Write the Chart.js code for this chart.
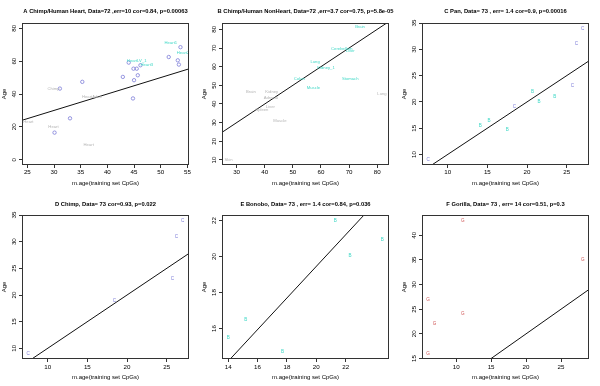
<!DOCTYPE html>
<html>
<head>
<meta charset="utf-8">
<script src="https://cdn.jsdelivr.net/npm/chart.js@4.4.1/dist/chart.umd.min.js"></script>
<style>
  html, body { margin: 0; padding: 0; background: #fff; }
  #wrap { position: relative; width: 600px; height: 386px; }
  .panel { position: absolute; }
</style>
</head>
<body>
<div id="wrap">
  <canvas id="panelA" class="panel" width="200" height="190" style="left:0;top:0"></canvas>
  <canvas id="panelB" class="panel" width="200" height="190" style="left:200px;top:0"></canvas>
  <canvas id="panelC" class="panel" width="200" height="190" style="left:400px;top:0"></canvas>
  <canvas id="panelD" class="panel" width="200" height="196" style="left:0;top:190px"></canvas>
  <canvas id="panelE" class="panel" width="200" height="196" style="left:200px;top:190px"></canvas>
  <canvas id="panelF" class="panel" width="200" height="196" style="left:400px;top:190px"></canvas>
</div>
<script>
// Methylation age vs real age, six panels (R-style base plots)

const BLUE = '#7c7cd8';
const CYAN = '#3fd8c6';
const GRAY = '#b4b4b4';
const RED = '#d05858';

// --- Panel A: Chimp/Human heart ---
const heartCircleX = [35.3, 31.1, 33.0, 30.1, 42.9, 44.0, 44.9, 45.5, 46.2, 45.7, 45.0, 44.8, 51.5, 53.7, 53.2, 53.4];
const heartCircleY = [47.4, 43.3, 25.2, 16.5, 50.4, 59.1, 55.4, 55.4, 57.5, 51.4, 48.4, 37.3, 62.5, 68.5, 60.5, 57.9];
const heartHumanX = [51.9, 54.2, 45.5, 47.4];
const heartHumanY = [71.0, 65.1, 59.9, 57.5];
const heartHumanText = ['Heart1', 'Heart2', 'HeartLV_1', 'Heart3'];
const heartOtherX = [29.9, 37.1, 25.2, 29.9, 36.5];
const heartOtherY = [42.9, 38.3, 23.2, 19.8, 9.1];
const heartOtherText = ['Chimp', 'HeartAdult', 'Heart', 'Heart', 'Heart'];
const heartXTicks = [25, 30, 35, 40, 45, 50, 55];
const heartYTicks = [0, 20, 40, 60, 80];

// --- Panel B: Chimp/Human non-heart ---
const tissueHumanX = [73.9, 67.4, 70.4, 57.9, 61.8, 52.3, 70.4, 57.3];
const tissueHumanY = [81.1, 69.4, 68.3, 62.4, 59.4, 53.5, 53.5, 48.7];
const tissueHumanText = ['Brain', 'Cerebellum', 'Liver', 'Lung', 'Kidney_1', 'Colon', 'Stomach', 'Muscle'];
const tissueChimpX = [35.1, 42.5, 42.2, 42.0, 39.0, 45.4, 81.7, 27.1];
const tissueChimpY = [46.5, 46.5, 43.5, 38.5, 36.7, 30.9, 45.5, 10.0];
const tissueChimpText = ['Brain', 'Kidney', 'Adrenal', 'Liver', 'Spleen', 'Muscle', 'Lung', 'Skin'];
const tissueXTicks = [30, 40, 50, 60, 70, 80];
const tissueYTicks = [10, 20, 30, 40, 50, 60, 70, 80];

// --- Chimpanzee samples (panels C and D) ---
const chimpX = [7.55, 18.4, 25.7, 26.2, 27.0];
const chimpY = [9.0, 19.0, 23.0, 31.0, 34.0];
// --- Bonobo samples (panel C) ---
const bonoboX = [14.1, 15.2, 17.5, 20.7, 21.5, 23.5];
const bonoboY = [15.5, 16.5, 14.7, 22.0, 20.05, 20.95];
const panXTicks = [10, 15, 20, 25];
const panYTicks = [10, 15, 20, 25, 30, 35];

// --- Panel E: Bonobo model ---
const bonoboEX = [14.0, 15.2, 17.7, 21.3, 22.3, 24.5];
const bonoboEY = [15.5, 16.5, 14.7, 22.0, 20.05, 20.95];
const bonoboLineX = [14.14, 23.25];
const bonoboLineY = [14.31, 22.31];
const bonoboXTicks = [14, 16, 18, 20, 22];
const bonoboYTicks = [16, 18, 20, 22];

// --- Panel F: Gorilla ---
const gorillaX = [6.0, 6.0, 6.9, 10.95, 10.95, 28.1];
const gorillaY = [15.9, 27.0, 22.0, 24.0, 43.0, 35.0];
const gorillaXTicks = [10, 15, 20, 25];
const gorillaYTicks = [15, 20, 25, 30, 35, 40];

Chart.defaults.font.family = "'Liberation Sans', Arial, sans-serif";
Chart.defaults.color = '#000';

// draws the R-style title, box and the text markers
const rPlotPlugin = {
  id: 'rPlot',
  afterDatasetsDraw(chart, args, opts) {
    const ctx = chart.ctx;
    chart.data.datasets.forEach((ds, i) => {
      if (!ds.labelText) return;
      const meta = chart.getDatasetMeta(i);
      ctx.save();
      ctx.font = (ds.textSize || 4.6) + "px 'Liberation Sans', Arial, sans-serif";
      ctx.fillStyle = ds.textColor;
      ctx.textAlign = 'center';
      ctx.textBaseline = 'middle';
      meta.data.forEach((pt, j) => {
        const txt = Array.isArray(ds.labelText) ? ds.labelText[j] : ds.labelText;
        ctx.fillText(txt, pt.x, pt.y);
      });
      ctx.restore();
    });
    const a = chart.chartArea;
    ctx.save();
    ctx.strokeStyle = '#333';
    ctx.lineWidth = 1;
    ctx.strokeRect(Math.round(a.left) + 0.5, Math.round(a.top) + 0.5,
      Math.round(a.right - a.left) - 1, Math.round(a.bottom - a.top) - 1);
    // main title, centred over the plot region like R does
    ctx.font = "bold 5.8px 'Liberation Sans', Arial, sans-serif";
    ctx.fillStyle = '#000';
    ctx.textAlign = 'center';
    ctx.textBaseline = 'middle';
    ctx.fillText(opts.title, (a.left + a.right) / 2, opts.titleY);
    ctx.restore();
  }
};

function markerSet(xs, ys, color, text, size) {
  return {
    data: xs.map((v, i) => ({ x: v, y: ys[i] })),
    labelText: text || null,
    textColor: color,
    textSize: size,
    pointStyle: text ? false : 'circle',
    pointRadius: text ? 0 : 1.7,
    borderColor: color,
    borderWidth: 0.8,
    backgroundColor: 'rgba(0,0,0,0)'
  };
}

function buildPanel(id, p) {
  const topRow = p.row === 0;
  const datasets = p.sets.slice();
  datasets.push({
    data: p.lineX.map((v, i) => ({ x: v, y: p.lineY[i] })),
    showLine: true,
    borderColor: '#111',
    borderWidth: 1,
    pointRadius: 0,
    fill: false
  });
  const tickFont = { size: 6.2 };
  return new Chart(document.getElementById(id), {
    type: 'scatter',
    data: { datasets },
    options: {
      responsive: false,
      animation: false,
      events: [],
      layout: { padding: { left: 0, right: 11, top: topRow ? 23 : 25, bottom: 0 } },
      plugins: {
        legend: { display: false },
        tooltip: { enabled: false },
        title: { display: false },
        rPlot: { title: p.title, titleY: topRow ? 11 : 14 }
      },
      scales: {
        x: {
          type: 'linear',
          min: p.xMin,
          max: p.xMax,
          afterFit: s => { s.height = topRow ? 25 : 27; },
          afterBuildTicks: s => { s.ticks = p.xTicks.map(v => ({ value: v })); },
          border: { display: false },
          grid: { drawOnChartArea: false, drawTicks: true, tickLength: 3, color: '#333' },
          ticks: { font: tickFont, padding: topRow ? 0.5 : 1.2, maxRotation: 0, autoSkip: false },
          title: {
            display: true,
            text: 'm.age(training set CpGs)',
            font: { size: 6 },
            padding: { top: 0, bottom: topRow ? 3.4 : 5.4 }
          }
        },
        y: {
          type: 'linear',
          min: p.yMin,
          max: p.yMax,
          afterFit: s => { s.width = 22; },
          afterBuildTicks: s => { s.ticks = p.yTicks.map(v => ({ value: v })); },
          border: { display: false },
          grid: { drawOnChartArea: false, drawTicks: true, tickLength: 3, color: '#333' },
          ticks: { font: tickFont, padding: 1, minRotation: 90, maxRotation: 90, crossAlign: 'center', autoSkip: false },
          title: {
            display: true,
            text: 'Age',
            font: { size: 6 },
            padding: { top: 0.4, bottom: 0 }
          }
        }
      }
    },
    plugins: [rPlotPlugin]
  });
}

buildPanel('panelA', {
  row: 0,
  title: 'A Chimp/Human Heart, Data=72 ,err=10 cor=0.84, p=0.00063',
  xMin: 24.0, xMax: 55.3, yMin: -3.2, yMax: 83.2,
  xTicks: heartXTicks, yTicks: heartYTicks,
  lineX: [24.0, 55.3], lineY: [24.0, 55.3],
  sets: [
    markerSet(heartOtherX, heartOtherY, GRAY, heartOtherText, 4.2),
    markerSet(heartHumanX, heartHumanY, CYAN, heartHumanText, 4.2),
    markerSet(heartCircleX, heartCircleY, BLUE)
  ]
});

buildPanel('panelB', {
  row: 0,
  title: 'B Chimp/Human NonHeart, Data=72 ,err=3.7 cor=0.75, p=5.8e-05',
  xMin: 24.8, xMax: 84.2, yMin: 7.3, yMax: 83.4,
  xTicks: tissueXTicks, yTicks: tissueYTicks,
  lineX: [24.8, 84.2], lineY: [24.8, 84.2],
  sets: [
    markerSet(tissueChimpX, tissueChimpY, GRAY, tissueChimpText, 4.2),
    markerSet(tissueHumanX, tissueHumanY, CYAN, tissueHumanText, 4.2)
  ]
});

buildPanel('panelC', {
  row: 0,
  title: 'C Pan, Data= 73 , err= 1.4 cor=0.9, p=0.00016',
  xMin: 6.77, xMax: 27.8, yMin: 8.0, yMax: 35.0,
  xTicks: panXTicks, yTicks: panYTicks,
  lineX: [6.77, 27.8], lineY: [6.77, 27.8],
  sets: [
    markerSet(bonoboX, bonoboY, CYAN, 'B', 4.6),
    markerSet(chimpX, chimpY, BLUE, 'C', 4.6)
  ]
});

buildPanel('panelD', {
  row: 1,
  title: 'D Chimp, Data= 73 cor=0.93, p=0.022',
  xMin: 6.77, xMax: 27.8, yMin: 8.0, yMax: 35.0,
  xTicks: panXTicks, yTicks: panYTicks,
  lineX: [6.77, 27.8], lineY: [6.77, 27.8],
  sets: [markerSet(chimpX, chimpY, BLUE, 'C', 4.6)]
});

buildPanel('panelE', {
  row: 1,
  title: 'E Bonobo, Data= 73 , err= 1.4 cor=0.84, p=0.036',
  xMin: 13.58, xMax: 24.95, yMin: 14.31, yMax: 22.31,
  xTicks: bonoboXTicks, yTicks: bonoboYTicks,
  lineX: bonoboLineX, lineY: bonoboLineY,
  sets: [markerSet(bonoboEX, bonoboEY, CYAN, 'B', 4.6)]
});

buildPanel('panelF', {
  row: 1,
  title: 'F Gorilla, Data= 73 , err= 14 cor=0.51, p=0.3',
  xMin: 5.12, xMax: 29.0, yMin: 14.9, yMax: 44.1,
  xTicks: gorillaXTicks, yTicks: gorillaYTicks,
  lineX: [5.12, 29.0], lineY: [5.12, 29.0],
  sets: [markerSet(gorillaX, gorillaY, RED, 'G', 4.6)]
});
</script>
</body>
</html>
